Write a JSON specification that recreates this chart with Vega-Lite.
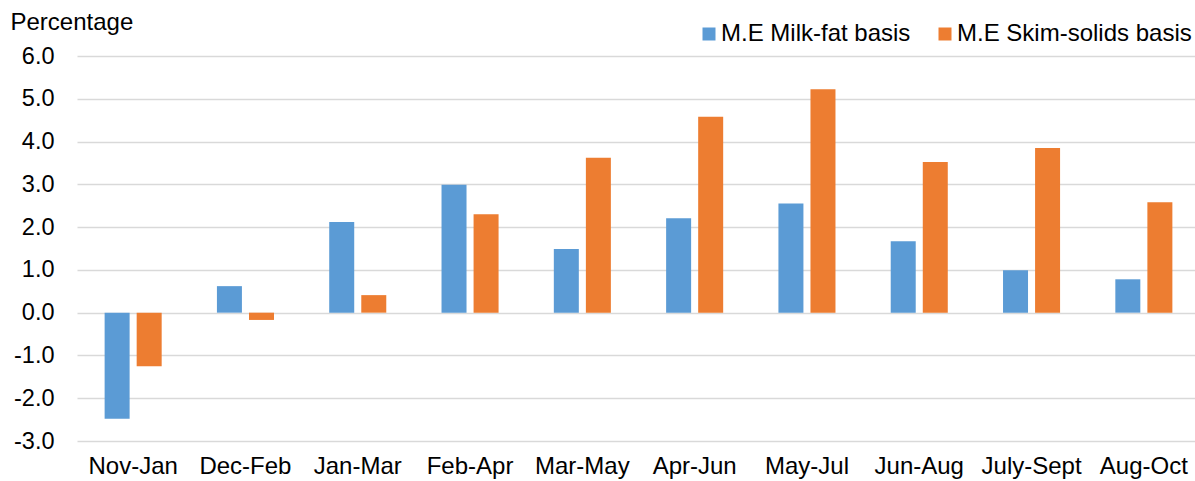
{
  "$schema": "https://vega.github.io/schema/vega-lite/v6.json",
  "width": 1123,
  "height": 385,
  "autosize": {"type": "none"},
  "padding": {"left": 77, "top": 56, "right": 0, "bottom": 40},
  "background": "white",
  "config": {
    "font": "Liberation Sans",
    "view": {"stroke": null},
    "axis": {"labelFont": "Liberation Sans", "labelColor": "#000000", "titleFont": "Liberation Sans", "titleColor": "#000000", "titleFontWeight": "normal"}
  },
  "data": {
    "values": [
      {"period": "Nov-Jan", "series": "M.E Milk-fat basis", "value": -2.48},
      {"period": "Nov-Jan", "series": "M.E Skim-solids basis", "value": -1.25},
      {"period": "Dec-Feb", "series": "M.E Milk-fat basis", "value": 0.62},
      {"period": "Dec-Feb", "series": "M.E Skim-solids basis", "value": -0.17},
      {"period": "Jan-Mar", "series": "M.E Milk-fat basis", "value": 2.12},
      {"period": "Jan-Mar", "series": "M.E Skim-solids basis", "value": 0.41},
      {"period": "Feb-Apr", "series": "M.E Milk-fat basis", "value": 2.99},
      {"period": "Feb-Apr", "series": "M.E Skim-solids basis", "value": 2.30},
      {"period": "Mar-May", "series": "M.E Milk-fat basis", "value": 1.49},
      {"period": "Mar-May", "series": "M.E Skim-solids basis", "value": 3.62},
      {"period": "Apr-Jun", "series": "M.E Milk-fat basis", "value": 2.21},
      {"period": "Apr-Jun", "series": "M.E Skim-solids basis", "value": 4.58},
      {"period": "May-Jul", "series": "M.E Milk-fat basis", "value": 2.55},
      {"period": "May-Jul", "series": "M.E Skim-solids basis", "value": 5.22},
      {"period": "Jun-Aug", "series": "M.E Milk-fat basis", "value": 1.67},
      {"period": "Jun-Aug", "series": "M.E Skim-solids basis", "value": 3.52},
      {"period": "July-Sept", "series": "M.E Milk-fat basis", "value": 0.99},
      {"period": "July-Sept", "series": "M.E Skim-solids basis", "value": 3.85},
      {"period": "Aug-Oct", "series": "M.E Milk-fat basis", "value": 0.78},
      {"period": "Aug-Oct", "series": "M.E Skim-solids basis", "value": 2.58}
    ]
  },
  "mark": {"type": "bar"},
  "encoding": {
    "x": {
      "field": "period",
      "type": "nominal",
      "sort": null,
      "scale": {"paddingInner": 0.492, "paddingOuter": 0.246},
      "axis": {
        "title": null,
        "labelAngle": 0,
        "labelFontSize": 24,
        "labelPadding": 13,
        "labelLimit": 0,
        "ticks": false,
        "domain": false,
        "grid": false
      }
    },
    "xOffset": {
      "field": "series",
      "type": "nominal",
      "scale": {"paddingInner": 0.22, "paddingOuter": 0}
    },
    "y": {
      "field": "value",
      "type": "quantitative",
      "scale": {"domain": [-3, 6], "nice": false, "zero": false},
      "axis": {
        "title": "Percentage",
        "titleAngle": 0,
        "titleFontSize": 24,
        "titleAlign": "left",
        "titleBaseline": "alphabetic",
        "titleX": -67,
        "titleY": -27,
        "values": [-3, -2, -1, 0, 1, 2, 3, 4, 5, 6],
        "labelExpr": "replace(format(datum.value, '.1f'), '\u2212', '-')",
        "labelFontSize": 23.5,
        "labelPadding": 23,
        "ticks": false,
        "domain": false,
        "grid": true,
        "gridColor": "#d9d9d9",
        "gridWidth": 1.5
      }
    },
    "color": {
      "field": "series",
      "type": "nominal",
      "scale": {"domain": ["M.E Milk-fat basis", "M.E Skim-solids basis"], "range": ["#5b9bd5", "#ed7d31"]},
      "legend": {
        "title": null,
        "orient": "none",
        "legendX": 620,
        "legendY": -34,
        "direction": "horizontal",
        "columns": 2,
        "columnPadding": 22,
        "padding": 0,
        "symbolType": "square",
        "symbolSize": 169,
        "symbolStrokeWidth": 0,
        "symbolOpacity": 1,
        "labelFontSize": 24,
        "labelLimit": 0,
        "labelColor": "#000000",
        "labelOffset": 0
      }
    }
  }
}
